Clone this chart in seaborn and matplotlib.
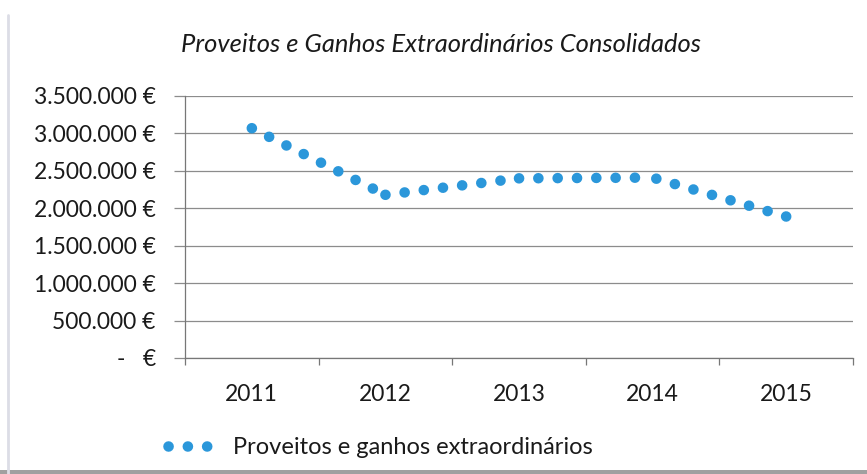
import matplotlib
matplotlib.use("Agg")
import matplotlib.pyplot as plt
from matplotlib.ticker import FuncFormatter, FixedLocator, NullFormatter
from matplotlib.lines import Line2D
from matplotlib.patches import Rectangle
import seaborn as sns
import pandas as pd

# Data
anos = ["2011", "2012", "2013", "2014", "2015"]
proveitos = [3070000, 2180000, 2400000, 2410000, 1890000]
serie_nome = "Proveitos e ganhos extraordinários"
titulo = "Proveitos e Ganhos Extraordinários Consolidados"
y_ticks = [0, 500000, 1000000, 1500000, 2000000, 2500000, 3000000, 3500000]

# Each segment between consecutive years is drawn on its own so the round-dot
# pattern starts on a data point; the last one runs backwards so it starts on 2015.
rows = []
n = len(anos)
for i in range(n - 1):
    pair = [i, i + 1] if i < n - 2 else [i + 1, i]
    for j in pair:
        rows.append({"seg": i, "ano": anos[j], "valor": proveitos[j]})
df = pd.DataFrame(rows)

sns.set_theme(style="white")
plt.rcParams["font.family"] = ["Lato", "DejaVu Sans"]

W, H = 867, 474
fig = plt.figure(figsize=(W / 100, H / 100), dpi=100)
fig.patch.set_facecolor("white")

ax = fig.add_axes([185 / W, 1 - 358 / H, (853 - 185) / W, (358 - 96) / H])

blue = "#2b97da"
sns.lineplot(data=df, x="ano", y="valor", units="seg", estimator=None, ax=ax,
             color=blue, lw=7.6, linestyle=(0, (0.01, 1.82)),
             dash_capstyle="round", sort=False, legend=False)

ax.set_xlim(-0.5, n - 0.5)
ax.set_ylim(0, 3500000)
ax.set_xlabel("")
ax.set_ylabel("")

def euro(v, pos):
    if v == 0:
        return "-   €"
    return f"{int(round(v)):,}".replace(",", ".") + " €"

ax.yaxis.set_major_locator(FixedLocator(y_ticks))
ax.yaxis.set_major_formatter(FuncFormatter(euro))
ax.grid(axis="y", color="#8c8c8c", lw=0.9)
ax.grid(axis="x", visible=False)

# category boundaries carry the tick marks, labels sit between them
ax.xaxis.set_minor_locator(FixedLocator([i - 0.5 for i in range(n + 1)]))
ax.xaxis.set_minor_formatter(NullFormatter())
ax.tick_params(axis="x", which="major", length=0, pad=19, labelsize=16.5, colors="#1a1a1a")
ax.tick_params(axis="x", which="minor", length=5, width=0.9, color="#777777", direction="out")
ax.tick_params(axis="y", which="major", length=8, width=0.9, color="#8c8c8c",
               direction="out", pad=13, labelsize=16.5, labelcolor="#1a1a1a")
ax.xaxis.set_ticks_position("bottom")
ax.yaxis.set_ticks_position("left")

for s in ["top", "right"]:
    ax.spines[s].set_visible(False)
ax.spines["left"].set_color("#777777")
ax.spines["left"].set_linewidth(0.9)
ax.spines["bottom"].set_color("#777777")
ax.spines["bottom"].set_linewidth(0.9)

fig.text(441 / W, 1 - 44 / H, titulo, ha="center", va="center",
         fontsize=18.4, fontstyle="italic", color="#1a1a1a")

handle = ax.lines[0]
leg = ax.legend([handle], [serie_nome], loc="center left",
                bbox_to_anchor=(168 / W, 1 - 448 / H),
                bbox_transform=fig.transFigure, frameon=False, fontsize=17,
                handlelength=2.2, handletextpad=0.55, borderpad=0, borderaxespad=0)
for t in leg.get_texts():
    t.set_color("#1a1a1a")

# chart frame: faint left edge and dark lower edge
fig.add_artist(Line2D([8 / W, 8 / W], [0, 1 - 15 / H], transform=fig.transFigure,
                      color="#dcdde6", lw=2))
fig.add_artist(Rectangle((0, 0), 1, 4 / H, transform=fig.transFigure,
                         facecolor="#a0a0a0", edgecolor="none"))

fig.savefig("out.png", dpi=100, facecolor="white")
